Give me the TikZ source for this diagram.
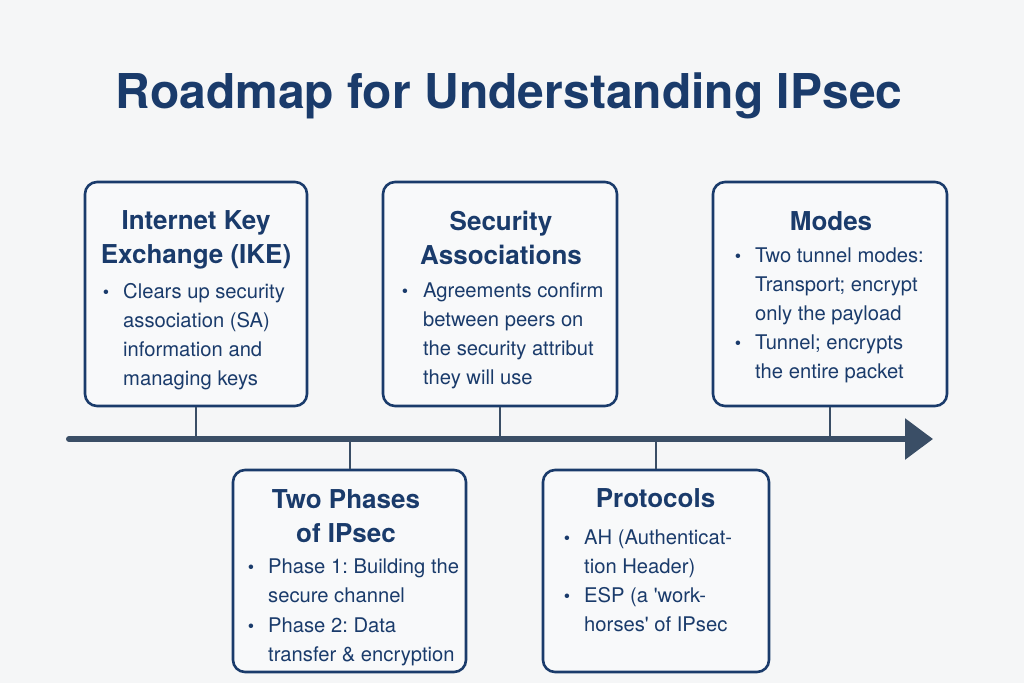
\documentclass[tikz,border=0pt]{standalone}
\usepackage{fontspec}
\setmainfont{TeX Gyre Heros}
\usetikzlibrary{arrows.meta}
\definecolor{navy}{HTML}{1A3B6B}
\definecolor{slate}{HTML}{3A4E66}
\definecolor{bgc}{HTML}{F5F6F7}
\definecolor{boxfill}{HTML}{F8F9FA}
\newcommand\sq{\XeTeXglyph\XeTeXcharglyph"27\relax}
\frenchspacing
\tikzset{
  boxnode/.style={draw=navy, fill=boxfill, line width=2.6pt, rounded corners=12pt, inner sep=0pt},
  titletext/.style={text=navy, font=\fontsize{48}{58}\selectfont\bfseries, anchor=base, inner sep=0pt},
  head/.style={text=navy, font=\fontsize{26}{33.5}\selectfont\bfseries, align=center, anchor=base, inner sep=0pt},
  bodytext/.style={text=navy, font=\fontsize{20.2}{29}\selectfont\frenchspacing, align=left, anchor=base west, inner sep=0pt},
  bul/.style={text=navy, font=\fontsize{18}{29}\selectfont, anchor=base, inner sep=0pt},
  conn/.style={draw=slate, line width=2pt},
  timeline/.style={draw=slate, line width=6pt, line cap=round, -{Triangle[length=28pt,width=40pt]}},
}
\begin{document}
\begin{tikzpicture}[x=1pt,y=-1pt]
\fill[bgc] (0,0) rectangle (1024,683);
\useasboundingbox (0,0) rectangle (1024,683);

\node[titletext] (title) at (509,108) {Roadmap for Understanding IPsec};

% timeline
\coordinate (tlstart) at (69,439);
\coordinate (tlend) at (933,439);

% boxes
\node[boxnode, minimum width=222pt, minimum height=224pt] (ike) at (196,294) {};
\node[boxnode, minimum width=234pt, minimum height=224pt] (sa) at (500,294) {};
\node[boxnode, minimum width=234pt, minimum height=224pt] (modes) at (830,294) {};
\node[boxnode, minimum width=233pt, minimum height=202pt] (phases) at (349.5,571) {};
\node[boxnode, minimum width=226pt, minimum height=202pt] (proto) at (656,571) {};

% connectors
\draw[conn] (ike.south) -- (ike.south |- tlstart);
\draw[conn] (sa.south) -- (sa.south |- tlstart);
\draw[conn] (modes.south) -- (modes.south |- tlstart);
\draw[conn] (phases.north) -- (phases.north |- tlstart);
\draw[conn] (proto.north) -- (proto.north |- tlstart);
\draw[timeline] (tlstart) -- (tlend);

% (multi-line nodes are placed at the baseline of their last line)
% IKE
\node[head] (ikeh) at (196,263) {Internet Key\\Exchange (IKE)};
\node[bul] (ikeb1) at (106,298) {•};
\node[bodytext] (iket1) at (123,385) {Clears up security\\association (SA)\\information and\\managing keys};

% SA
\node[head] (sah) at (501,264) {Security\\Associations};
\node[bul] (sab1) at (405,297) {•};
\node[bodytext] (sat1) at (423,384) {Agreements confirm\\between peers on\\the security attribut\\they will use};

% Modes
\node[head] (modesh) at (831,230) {Modes};
\node[bul] (modesb1) at (738,262) {•};
\node[bodytext] (modest1) at (755,320) {Two tunnel modes:\\Transport; encrypt\\only the payload};
\node[bul] (modesb2) at (738,349) {•};
\node[bodytext] (modest2) at (755,378) {Tunnel; encrypts\\the entire packet};

% Phases
\node[head] (phasesh) at (346,542) {Two Phases\\of IPsec};
\node[bul] (phasesb1) at (251,573) {•};
\node[bodytext] (phasest1) at (268,602) {Phase 1: Building the\\secure channel};
\node[bul] (phasesb2) at (251,632) {•};
\node[bodytext] (phasest2) at (268,661) {Phase 2: Data\\transfer \& encryption};

% Protocols
\node[head] (protoh) at (655.5,507) {Protocols};
\node[bul] (protob1) at (567,544) {•};
\node[bodytext] (protot1) at (584,573) {AH (Authenticat-\\tion Header)};
\node[bul] (protob2) at (567,602) {•};
\node[bodytext] (protot2) at (584,631) {ESP (a \sq work-\\horses\sq\ of IPsec};
\end{tikzpicture}
\end{document}
